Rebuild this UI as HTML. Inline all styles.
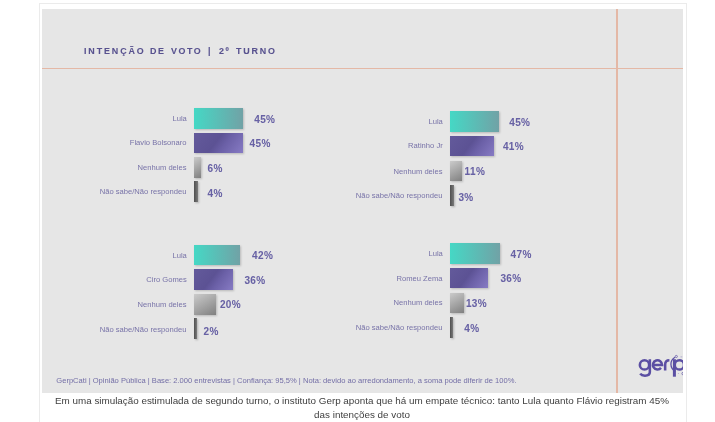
<!DOCTYPE html>
<html><head><meta charset="utf-8">
<style>
html,body{margin:0;padding:0;background:#fff;width:715px;height:422px;overflow:hidden;position:relative;font-family:"Liberation Sans",sans-serif;}
.frame{position:absolute;left:39px;top:3px;width:646px;height:440px;border:1px solid #ebebeb;}
.img{position:absolute;left:42px;top:9px;width:641px;height:384px;background:#e6e6e6;overflow:hidden;}
.t{position:absolute;white-space:nowrap;}
.wrap{position:absolute;left:0;top:0;width:715px;height:422px;filter:blur(0.3px);}
.b{position:absolute;}
.teal{background:linear-gradient(90deg,#45d8c5,#71a2a6);box-shadow:1.2px 1.2px 2px rgba(0,0,0,0.2);}
.purp{background:linear-gradient(127deg,#635a9b 0%,#5c5294 45%,#6b60a7 62%,#877bc4 100%);box-shadow:1.2px 1.2px 2px rgba(0,0,0,0.2);}
.gray{background:linear-gradient(150deg,#cbcbcb,#808080);box-shadow:1.2px 1.2px 2px rgba(0,0,0,0.2);}
.dark{background:linear-gradient(90deg,#4f4f4f,#7a7a7a);box-shadow:1.2px 1.2px 2px rgba(0,0,0,0.2);}
.hl{position:absolute;left:42px;top:67.55px;width:641px;height:1.6px;background:#e4b8a6;}
.vl{position:absolute;left:616.4px;top:9px;width:1.25px;height:384px;background:#e4b8a6;}
.cap{position:absolute;left:39px;width:648px;text-align:center;font-size:9.86px;color:#404040;white-space:nowrap;will-change:transform;}
</style></head><body>
<div class="frame"></div>
<div class="img"></div>
<div class="wrap">
<div class="hl"></div>
<div class="vl"></div>
<div class="t" style="left:83.90px;top:46.81px;font-size:9.2px;line-height:9.2px;color:#58528f;font-weight:700;letter-spacing:1.95px;transform:scaleX(0.97);transform-origin:0 0;-webkit-text-stroke:0.1px #58528f;">INTENÇÃO</div>
<div class="t" style="left:149.90px;top:46.81px;font-size:9.2px;line-height:9.2px;color:#58528f;font-weight:700;letter-spacing:1.6px;transform:scaleX(0.97);transform-origin:0 0;-webkit-text-stroke:0.1px #58528f;">DE</div>
<div class="t" style="left:170.70px;top:46.81px;font-size:9.2px;line-height:9.2px;color:#58528f;font-weight:700;letter-spacing:1.6px;transform:scaleX(0.97);transform-origin:0 0;-webkit-text-stroke:0.1px #58528f;">VOTO</div>
<div class="t" style="left:207.80px;top:46.81px;font-size:9.2px;line-height:9.2px;color:#58528f;font-weight:700;letter-spacing:1.6px;transform:scaleX(0.97);transform-origin:0 0;-webkit-text-stroke:0.1px #58528f;">|</div>
<div class="t" style="left:218.80px;top:46.81px;font-size:9.2px;line-height:9.2px;color:#58528f;font-weight:700;letter-spacing:1.6px;transform:scaleX(0.97);transform-origin:0 0;-webkit-text-stroke:0.1px #58528f;">2º</div>
<div class="t" style="left:235.90px;top:46.81px;font-size:9.2px;line-height:9.2px;color:#58528f;font-weight:700;letter-spacing:1.85px;transform:scaleX(0.97);transform-origin:0 0;-webkit-text-stroke:0.1px #58528f;">TURNO</div>
<div class="t" style="right:528.40px;top:114.75px;font-size:7.85px;line-height:7.85px;color:#7873a8;font-weight:400;transform:scaleX(0.97);transform-origin:100% 0;">Lula</div>
<div class="t" style="right:528.40px;top:139.25px;font-size:7.85px;line-height:7.85px;color:#7873a8;font-weight:400;transform:scaleX(0.97);transform-origin:100% 0;">Flavio Bolsonaro</div>
<div class="t" style="right:528.40px;top:163.95px;font-size:7.85px;line-height:7.85px;color:#7873a8;font-weight:400;transform:scaleX(0.97);transform-origin:100% 0;">Nenhum deles</div>
<div class="t" style="right:528.40px;top:188.45px;font-size:7.85px;line-height:7.85px;color:#7873a8;font-weight:400;transform:scaleX(0.97);transform-origin:100% 0;">Não sabe/Não respondeu</div>
<div class="b teal" style="left:194.00px;top:108.00px;width:49.00px;height:21.00px"></div>
<div class="b purp" style="left:194.00px;top:133.00px;width:49.00px;height:20.00px"></div>
<div class="b gray" style="left:194.00px;top:156.80px;width:7.00px;height:21.00px"></div>
<div class="b dark" style="left:194.00px;top:181.30px;width:4.40px;height:20.50px"></div>
<div class="t" style="left:254.20px;top:114.64px;font-size:10.0px;line-height:10.0px;color:#6761a4;font-weight:700;letter-spacing:0.4px;-webkit-text-stroke:0.05px #6761a4;">45%</div>
<div class="t" style="left:249.50px;top:138.94px;font-size:10.0px;line-height:10.0px;color:#6761a4;font-weight:700;letter-spacing:0.4px;-webkit-text-stroke:0.05px #6761a4;">45%</div>
<div class="t" style="left:207.60px;top:163.94px;font-size:10.0px;line-height:10.0px;color:#6761a4;font-weight:700;letter-spacing:0.4px;-webkit-text-stroke:0.05px #6761a4;">6%</div>
<div class="t" style="left:207.60px;top:188.63px;font-size:10.0px;line-height:10.0px;color:#6761a4;font-weight:700;letter-spacing:0.4px;-webkit-text-stroke:0.05px #6761a4;">4%</div>
<div class="t" style="right:272.40px;top:118.25px;font-size:7.85px;line-height:7.85px;color:#7873a8;font-weight:400;transform:scaleX(0.97);transform-origin:100% 0;">Lula</div>
<div class="t" style="right:272.40px;top:142.25px;font-size:7.85px;line-height:7.85px;color:#7873a8;font-weight:400;transform:scaleX(0.97);transform-origin:100% 0;">Ratinho Jr</div>
<div class="t" style="right:272.40px;top:167.55px;font-size:7.85px;line-height:7.85px;color:#7873a8;font-weight:400;transform:scaleX(0.97);transform-origin:100% 0;">Nenhum deles</div>
<div class="t" style="right:272.40px;top:192.25px;font-size:7.85px;line-height:7.85px;color:#7873a8;font-weight:400;transform:scaleX(0.97);transform-origin:100% 0;">Não sabe/Não respondeu</div>
<div class="b teal" style="left:449.50px;top:111.30px;width:49.00px;height:20.90px"></div>
<div class="b purp" style="left:449.50px;top:135.80px;width:44.30px;height:20.10px"></div>
<div class="b gray" style="left:449.60px;top:161.25px;width:12.20px;height:19.85px"></div>
<div class="b dark" style="left:449.60px;top:184.90px;width:4.00px;height:20.90px"></div>
<div class="t" style="left:509.20px;top:118.14px;font-size:10.0px;line-height:10.0px;color:#6761a4;font-weight:700;letter-spacing:0.4px;-webkit-text-stroke:0.05px #6761a4;">45%</div>
<div class="t" style="left:502.90px;top:142.24px;font-size:10.0px;line-height:10.0px;color:#6761a4;font-weight:700;letter-spacing:0.4px;-webkit-text-stroke:0.05px #6761a4;">41%</div>
<div class="t" style="left:464.60px;top:167.34px;font-size:10.0px;line-height:10.0px;color:#6761a4;font-weight:700;letter-spacing:0.4px;-webkit-text-stroke:0.05px #6761a4;">11%</div>
<div class="t" style="left:458.40px;top:192.94px;font-size:10.0px;line-height:10.0px;color:#6761a4;font-weight:700;letter-spacing:0.4px;-webkit-text-stroke:0.05px #6761a4;">3%</div>
<div class="t" style="right:528.40px;top:251.55px;font-size:7.85px;line-height:7.85px;color:#7873a8;font-weight:400;transform:scaleX(0.97);transform-origin:100% 0;">Lula</div>
<div class="t" style="right:528.40px;top:275.85px;font-size:7.85px;line-height:7.85px;color:#7873a8;font-weight:400;transform:scaleX(0.97);transform-origin:100% 0;">Ciro Gomes</div>
<div class="t" style="right:528.40px;top:300.65px;font-size:7.85px;line-height:7.85px;color:#7873a8;font-weight:400;transform:scaleX(0.97);transform-origin:100% 0;">Nenhum deles</div>
<div class="t" style="right:528.40px;top:325.55px;font-size:7.85px;line-height:7.85px;color:#7873a8;font-weight:400;transform:scaleX(0.97);transform-origin:100% 0;">Não sabe/Não respondeu</div>
<div class="b teal" style="left:194.00px;top:244.60px;width:45.50px;height:20.80px"></div>
<div class="b purp" style="left:194.00px;top:269.00px;width:38.90px;height:21.00px"></div>
<div class="b gray" style="left:194.00px;top:293.80px;width:22.00px;height:20.80px"></div>
<div class="b dark" style="left:194.00px;top:318.00px;width:3.10px;height:21.00px"></div>
<div class="t" style="left:252.10px;top:251.33px;font-size:10.0px;line-height:10.0px;color:#6761a4;font-weight:700;letter-spacing:0.4px;-webkit-text-stroke:0.05px #6761a4;">42%</div>
<div class="t" style="left:244.40px;top:276.03px;font-size:10.0px;line-height:10.0px;color:#6761a4;font-weight:700;letter-spacing:0.4px;-webkit-text-stroke:0.05px #6761a4;">36%</div>
<div class="t" style="left:219.90px;top:300.23px;font-size:10.0px;line-height:10.0px;color:#6761a4;font-weight:700;letter-spacing:0.4px;-webkit-text-stroke:0.05px #6761a4;">20%</div>
<div class="t" style="left:203.50px;top:326.53px;font-size:10.0px;line-height:10.0px;color:#6761a4;font-weight:700;letter-spacing:0.4px;-webkit-text-stroke:0.05px #6761a4;">2%</div>
<div class="t" style="right:272.40px;top:249.65px;font-size:7.85px;line-height:7.85px;color:#7873a8;font-weight:400;transform:scaleX(0.97);transform-origin:100% 0;">Lula</div>
<div class="t" style="right:272.40px;top:274.55px;font-size:7.85px;line-height:7.85px;color:#7873a8;font-weight:400;transform:scaleX(0.97);transform-origin:100% 0;">Romeu Zema</div>
<div class="t" style="right:272.40px;top:299.25px;font-size:7.85px;line-height:7.85px;color:#7873a8;font-weight:400;transform:scaleX(0.97);transform-origin:100% 0;">Nenhum deles</div>
<div class="t" style="right:272.40px;top:323.65px;font-size:7.85px;line-height:7.85px;color:#7873a8;font-weight:400;transform:scaleX(0.97);transform-origin:100% 0;">Não sabe/Não respondeu</div>
<div class="b teal" style="left:449.50px;top:243.40px;width:50.60px;height:20.40px"></div>
<div class="b purp" style="left:449.50px;top:268.00px;width:38.80px;height:20.20px"></div>
<div class="b gray" style="left:449.60px;top:293.10px;width:14.60px;height:19.60px"></div>
<div class="b dark" style="left:449.60px;top:317.30px;width:3.50px;height:20.30px"></div>
<div class="t" style="left:510.60px;top:249.93px;font-size:10.0px;line-height:10.0px;color:#6761a4;font-weight:700;letter-spacing:0.4px;-webkit-text-stroke:0.05px #6761a4;">47%</div>
<div class="t" style="left:500.40px;top:274.43px;font-size:10.0px;line-height:10.0px;color:#6761a4;font-weight:700;letter-spacing:0.4px;-webkit-text-stroke:0.05px #6761a4;">36%</div>
<div class="t" style="left:465.90px;top:299.13px;font-size:10.0px;line-height:10.0px;color:#6761a4;font-weight:700;letter-spacing:0.4px;-webkit-text-stroke:0.05px #6761a4;">13%</div>
<div class="t" style="left:464.20px;top:323.63px;font-size:10.0px;line-height:10.0px;color:#6761a4;font-weight:700;letter-spacing:0.4px;-webkit-text-stroke:0.05px #6761a4;">4%</div>
<div class="t" style="left:56.30px;top:377.09px;font-size:7.57px;line-height:7.57px;color:#736ea6;font-weight:400;">GerpCati | Opinião Pública | Base: 2.000 entrevistas | Confiança: 95,5% | Nota: devido ao arredondamento, a soma pode diferir de 100%.</div>
<div style="position:absolute;left:630px;top:345px;width:53px;height:40px;overflow:hidden"><svg width="53" height="40" viewBox="630 345 53 40" fill="none" stroke="#5b4fa3">
<circle cx="644.5" cy="364.9" r="4.65" stroke-width="2.55"/>
<path d="M649.85 359.2 V372 Q649.85 375.65 645 375.65 Q641.6 375.65 640.2 373.6" stroke-width="2.55"/>
<path d="M652.9 364.9 H662.1 A4.6 4.6 0 1 0 661.0 367.9" stroke-width="2.55"/>
<path d="M665.15 370.6 V364.8 Q665.15 360.3 669.4 360.3" stroke-width="2.55"/>
<path d="M674.4 359.2 V376.7" stroke-width="3"/>
<circle cx="679.4" cy="364.9" r="4.65" stroke-width="2.55"/>
<path d="M675.0 357.2 A8 8 0 0 0 675.3 371.3" stroke-width="1.3"/>
<circle cx="676.3" cy="356.5" r="1.1" stroke-width="0.7"/>
<path d="M680.5 356.9 h1.8" stroke-width="0.6" stroke="#9089bd"/><circle cx="678.3" cy="373.4" r="0.45" fill="#7a72b0" stroke="none"/><path d="M683.2 372.3 A1.3 1.3 0 0 0 683.2 374.9" stroke-width="0.8" stroke="#6a61a8"/>
</svg></div>
</div>
<div class="cap" style="margin-left:-0.8px;top:395.65px;line-height:9.86px">Em uma simulação estimulada de segundo turno, o instituto Gerp aponta que há um empate técnico: tanto Lula quanto Flávio registram 45%</div>
<div class="cap" style="margin-left:-0.8px;top:409.65px;line-height:9.86px">das intenções de voto</div>
</body></html>
